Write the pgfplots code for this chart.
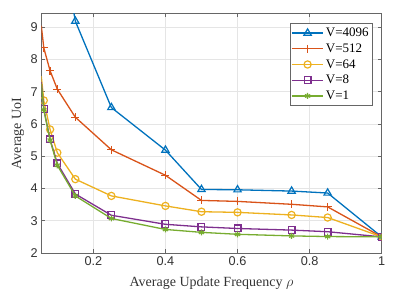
\documentclass[border=0pt]{standalone}
\usepackage{fontspec}
\setmainfont{Liberation Serif}
\setsansfont{Liberation Sans}
\usepackage{pgfplots}
\pgfplotsset{compat=1.18}
\definecolor{c1}{rgb}{0,0.447,0.741}
\definecolor{c2}{rgb}{0.85,0.325,0.098}
\definecolor{c3}{rgb}{0.929,0.694,0.125}
\definecolor{c4}{rgb}{0.494,0.184,0.556}
\definecolor{c5}{rgb}{0.466,0.674,0.188}
\definecolor{axgray}{rgb}{0.40,0.40,0.40}
\begin{document}
\begin{tikzpicture}
\useasboundingbox (-41.3pt,-49pt) rectangle (373.7pt,253pt);
\begin{axis}[
  at={(0,0)}, anchor=south west,
  width=340.4pt, height=239.3pt, scale only axis,
  xmin=0.0556, xmax=1, ymin=2, ymax=9.42,
  xtick={0.2,0.4,0.6,0.8,1}, ytick={2,3,4,5,6,7,8,9},
  xticklabels={0.2,0.4,0.6,0.8,1},
  grid=major, grid style={gray!20, line width=0.5pt},
  axis line style={axgray, line width=0.6pt},
  tick style={axgray, line width=0.6pt},
  tick align=inside, major tick length=3.5pt,
  xtick pos=both, ytick pos=both,
  ticklabel style={font=\sffamily\fontsize{12.7}{14}\selectfont, text=black!80},
  /pgf/number format/assume math mode=true,
  xlabel={Average Update Frequency $\rho$},
  ylabel={Average UoI},
  label style={font=\fontsize{14}{16}\selectfont, text=black!80},
  xlabel style={at={(axis description cs:0.5,-0.124)}, anchor=center},
  ylabel style={at={(axis description cs:-0.0684,0.5)}, anchor=center},
  clip marker paths=true,
  legend style={at={(0.9724,0.9599)}, anchor=north east,
    draw=axgray, font=\fontsize{13}{15}\selectfont,
    row sep=1.6pt, inner xsep=1.5pt, inner ysep=2.5pt},
  legend cell align=left,
  legend image code/.code={
    \draw[mark=none, line width=1.3pt] (0cm,0cm)--(1.1cm,0cm);
    \draw[line width=1.3pt] plot coordinates {(0.55cm,0cm)};},
  every axis plot/.append style={line width=1.3pt},
]
\addplot[c1, mark=triangle, mark size=4.2pt, mark options={line width=1.2pt}] coordinates {
 (0.1,12.4) (0.15,9.19) (0.25,6.51) (0.4,5.19) (0.5,3.97) (0.6,3.96) (0.75,3.92) (0.85,3.86) (1,2.5)};
\addlegendentry{V=4096}
\addplot[c2, mark=+, mark size=4pt, mark options={line width=1.2pt}] coordinates {
 (0.0625,8.36) (0.08,7.65) (0.1,7.08) (0.15,6.21) (0.25,5.2) (0.4,4.41) (0.5,3.63) (0.6,3.6) (0.75,3.51) (0.85,3.43) (1,2.5)};
\addlegendentry{V=512}
\addplot[c3, mark=o, mark size=3.6pt, mark options={line width=1.2pt}] coordinates {
 (0.0625,6.73) (0.08,5.83) (0.1,5.11) (0.15,4.29) (0.25,3.77) (0.4,3.46) (0.5,3.28) (0.6,3.26) (0.75,3.18) (0.85,3.1) (1,2.5)};
\addlegendentry{V=64}
\addplot[c4, mark=square, mark size=3.4pt, mark options={line width=1.2pt}] coordinates {
 (0.0625,6.46) (0.08,5.52) (0.1,4.78) (0.15,3.83) (0.25,3.17) (0.4,2.89) (0.5,2.81) (0.6,2.76) (0.75,2.71) (0.85,2.66) (1,2.5)};
\addlegendentry{V=8}
\addplot[c5, mark=asterisk, mark size=3pt, mark options={line width=1.2pt}] coordinates {
 (0.0625,6.44) (0.08,5.5) (0.1,4.72) (0.15,3.77) (0.25,3.07) (0.4,2.73) (0.5,2.64) (0.6,2.58) (0.75,2.53) (0.85,2.51) (1,2.5)};
\addlegendentry{V=1}
\addplot[c2, no marks, forget plot] coordinates {(0.0556,9.05) (0.0625,8.36)};
\addplot[c3, no marks, forget plot] coordinates {(0.0556,7.48) (0.0625,6.73)};
\addplot[c4, no marks, forget plot] coordinates {(0.0556,7.3) (0.0625,6.46)};
\addplot[c5, no marks, forget plot] coordinates {(0.0556,7.25) (0.0625,6.44)};
\end{axis}
\end{tikzpicture}
\end{document}
